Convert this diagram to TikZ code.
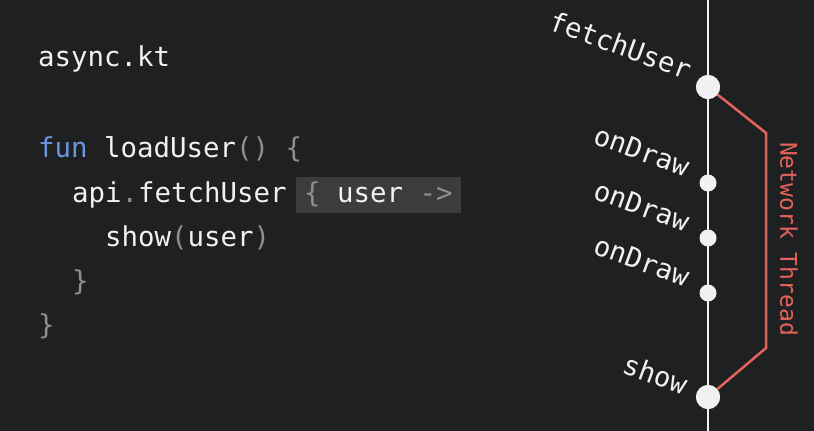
\documentclass[tikz,border=0pt]{standalone}
\usepackage{fontspec}
\setmonofont{DejaVu Sans Mono}
\usetikzlibrary{positioning, calc}
\definecolor{bg}{HTML}{1E2022}
\definecolor{fg}{HTML}{F1F1F1}
\definecolor{punct}{HTML}{8D8F91}
\definecolor{kw}{HTML}{6B95E0}
\definecolor{net}{HTML}{E5625A}
\definecolor{hl}{HTML}{3A3C3E}
\tikzset{
  code/.style={font=\fontsize{27.4}{32}\selectfont\ttfamily, text=fg, inner sep=0pt, anchor=base west},
  lbl/.style={font=\fontsize{27.4}{32}\selectfont\ttfamily, text=fg, inner sep=0pt, anchor=base east, rotate=-20},
  bigdot/.style={circle, fill=fg, minimum size=24pt, inner sep=0pt},
  dot/.style={circle, fill=fg, minimum size=17pt, inner sep=0pt},
}
\begin{document}
\begin{tikzpicture}[x=1pt, y=-1pt]
\fill[bg] (0,0) rectangle (814,431);
\useasboundingbox (0,0) rectangle (814,431);
\node[code] (file) at (38,66) {async.kt};
\node[code] (fun) at (38,157) {{\color{kw}fun} loadUser{\color{punct}()} {\color{punct}\{}};
\node[code] (api) at (72,202) {api{\color{punct}.}fetchUser};
\node[code, fill=hl, inner xsep=8pt, text height=25pt, text depth=11pt] (lam) at ([xshift=9pt]api.base east) {{\color{punct}\{} user {\color{punct}->}};
\node[code] (show) at (105,246) {show{\color{punct}(}user{\color{punct})}};
\node[code, text=punct] (close1) at (72,290) {\}};
\node[code, text=punct] (close2) at (38,334) {\}};
\coordinate (top) at (708,0);
\coordinate (bot) at (708,431);
\draw[fg, line width=2.2pt] (top) -- (bot);
\node[bigdot] (0) at (708,87) {};
\node[dot] (1) at (708,183) {};
\node[dot] (2) at (708,238) {};
\node[dot] (3) at (708,293) {};
\node[bigdot] (4) at (708,397) {};
\node[lbl] at ($(0)+(-21,-7)$) {fetchUser};
\node[lbl] at ($(1)+(-23,-6)$) {onDraw};
\node[lbl] at ($(2)+(-23,-6)$) {onDraw};
\node[lbl] at ($(3)+(-23,-6)$) {onDraw};
\node[lbl] at ($(4)+(-25,-2)$) {show};
\coordinate (a) at (766,133);
\coordinate (b) at (766,348);
\draw[net, line width=2.5pt, line join=miter] (0.center) -- (a) -- (b) -- (4.center);
\node[bigdot] at (0) {};
\node[bigdot] at (4) {};
\node[font=\fontsize{23}{26}\selectfont\ttfamily, text=net, rotate=-90, inner sep=0pt] (nt) at (789,239) {Network Thread};
\end{tikzpicture}
\end{document}
